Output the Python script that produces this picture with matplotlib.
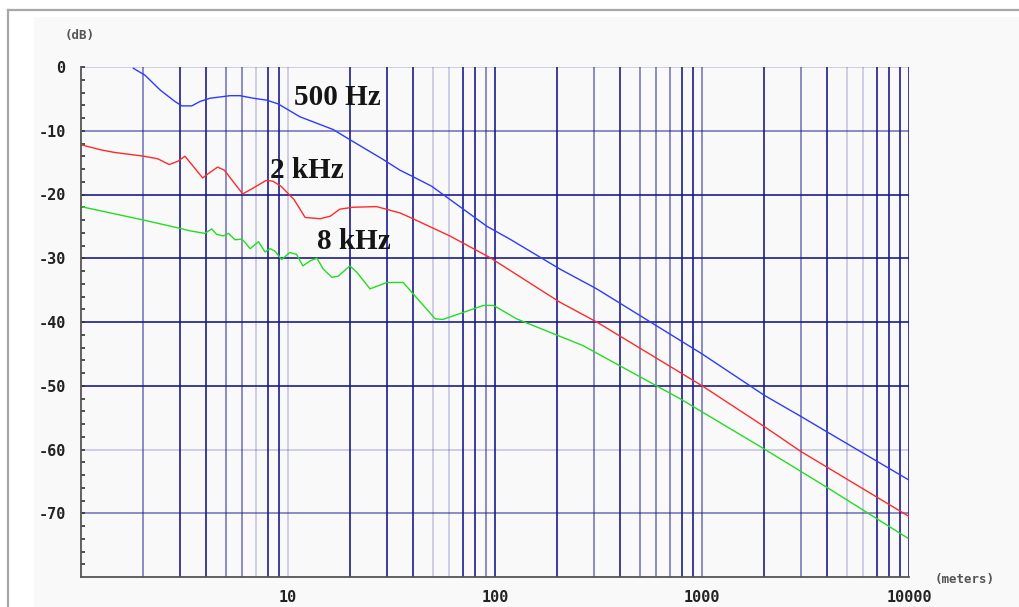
import matplotlib
matplotlib.use("Agg")
import matplotlib.pyplot as plt
import numpy as np
from matplotlib.lines import Line2D
from matplotlib.patches import Rectangle

# distance (meters) vs attenuation (dB)
f_500 = [1.79, 2.04, 2.41, 2.84, 3.07, 3.43, 3.76, 4.2, 5.25, 5.87, 6.8, 7.9, 8.98,
         11.4, 16.5, 19.9, 28.8, 34.8, 39.6, 49.4, 60.7, 91.5, 118, 206, 310,
         1000, 2000, 3000, 4000, 10000]
db_500 = [-0.2, -1.3, -3.6, -5.4, -6.1, -6.1, -5.4, -4.9, -4.5, -4.5, -4.9, -5.2, -5.8,
          -7.8, -9.8, -11.4, -14.5, -16.2, -17.1, -18.7, -20.8, -25.0, -27.0, -31.7, -34.8,
          -45.0, -51.5, -54.8, -57.2, -64.8]

f_2k = [1, 1.25, 1.45, 2.02, 2.35, 2.67, 2.93, 3.18, 3.53, 3.87, 4.17, 4.57, 4.93,
        5.5, 6.04, 6.62, 7.83, 8.44, 9.25, 10.7, 12.1, 14.3, 16, 17.8, 20.6, 26.8,
        34.8, 38.9, 60.5, 94.6, 206, 310, 1000, 2000, 3000, 10000]
db_2k = [-12.2, -13.0, -13.4, -14.0, -14.4, -15.3, -14.8, -14.0, -15.8, -17.4, -16.6, -15.7, -16.2,
         -18.2, -19.9, -19.2, -17.8, -17.9, -18.7, -20.8, -23.6, -23.8, -23.4, -22.3, -22.0, -21.9,
         -22.9, -23.6, -26.5, -29.9, -36.9, -40.0, -50.0, -56.4, -60.3, -70.5]

f_8k = [1, 2, 3, 3.36, 3.97, 4.28, 4.52, 4.87, 5.16, 5.54, 5.98, 6.2, 6.56, 7.2, 7.74,
        8.2, 8.66, 9.32, 10.2, 11.0, 11.8, 12.8, 13.8, 14.8, 16.3, 17.5, 19.9, 21.5,
        24.9, 30, 36, 51.4, 56, 88, 98.5, 127, 266, 780, 1970, 3950, 9860]
db_8k = [-21.9, -24.0, -25.3, -25.7, -26.1, -25.4, -26.25, -26.5, -26.1, -27.1, -27.0, -27.5, -28.5, -27.4, -29.0,
         -28.5, -28.9, -30.2, -29.1, -29.4, -31.2, -30.4, -30.0, -31.7, -33.0, -32.8, -31.2, -32.2,
         -34.8, -33.8, -33.8, -39.5, -39.6, -37.4, -37.4, -39.5, -43.7, -52.0, -59.8, -65.8, -73.9]

x_ticks = [10, 100, 1000, 10000]
x_ticklabels = ['10', '100', '1000', '10000']
y_ticks = [0, -10, -20, -30, -40, -50, -60, -70]
y_ticklabels = ['0', '-10', '-20', '-30', '-40', '-50', '-60', '-70']

# how dark each grid line looks in the picture (d/m/l), one per 2..10 step per decade
vgrid_shade = ['m', 'd', 'd', 'm', 'm', 'l', 'd', 'd', 'l',
               'd', 'd', 'd', 'l', 'l', 'd', 'd', 'm', 'd',
               'd', 'm', 'd', 'm', 'm', 'm', 'd', 'd', 'm',
               'd', 'm', 'd', 'l', 'l', 'd', 'd', 'd', 'd']
hgrid_shade = ['l', 'm', 'd', 'd', 'd', 'd', 'l', 'm']
shade_alpha = {'d': 0.95, 'm': 0.55, 'l': 0.22}
grid_color = '#1a1a8c'

W, H = 1019, 607
fig = plt.figure(figsize=(W / 100, H / 100), dpi=100)
fig.patch.set_facecolor('white')

# light panel and the grey frame round it (cut by the picture edges)
fig.add_artist(Rectangle((34 / W, 0), 1, 1 - 17 / H, transform=fig.transFigure,
                         facecolor='#f9f9f9', edgecolor='none', zorder=0))
fig.add_artist(Line2D([8 / W, 8 / W], [0, 1 - 10 / H], transform=fig.transFigure,
                      color='#a8a8a8', lw=1.6))
fig.add_artist(Line2D([8 / W, 1], [1 - 10 / H, 1 - 10 / H], transform=fig.transFigure,
                      color='#a8a8a8', lw=1.6))

ax = fig.add_axes([81 / W, 30 / H, 828 / W, 510 / H])
ax.set_facecolor('#f9f9f9')
ax.set_xscale('log')
ax.set_xlim(1, 10000)
ax.set_ylim(-80, 0)

# grid
vpos = [m * 10 ** d for d in range(4) for m in range(2, 11)]
for x, s in zip(vpos, vgrid_shade):
    ax.axvline(x, color=grid_color, alpha=shade_alpha[s], lw=1.25, zorder=1)
for y, s in zip(y_ticks, hgrid_shade):
    ax.axhline(y, color=grid_color, alpha=shade_alpha[s], lw=1.25, zorder=1)

ax.plot(f_500, db_500, color='#2b3bff', lw=1.0, zorder=3)
ax.plot(f_2k, db_2k, color='#ff2a2a', lw=1.0, zorder=3)
ax.plot(f_8k, db_8k, color='#22dd22', lw=1.0, zorder=3)

lab = dict(family='Liberation Serif', fontweight='bold', fontsize=21,
           color='#151515', ha='center', va='center', zorder=4)
ax.text(17.3, -4.85, '500 Hz', **lab)
ax.text(12.3, -16.25, '2 kHz', **lab)
ax.text(20.8, -27.4, '8 kHz', **lab)

for side in ['top', 'right']:
    ax.spines[side].set_visible(False)
for side in ['left', 'bottom']:
    ax.spines[side].set_color('#555555')
    ax.spines[side].set_linewidth(1.3)
    ax.spines[side].set_zorder(5)

tickfont = dict(family='DejaVu Sans Mono', fontweight='bold', fontsize=11, color='#222222')
ax.set_xticks(x_ticks)
ax.set_xticklabels(x_ticklabels, **tickfont)
ax.xaxis.set_minor_locator(matplotlib.ticker.NullLocator())
ax.tick_params(axis='x', length=0, pad=9)

ax.set_yticks(y_ticks)
ax.set_yticklabels(y_ticklabels, **tickfont)
ax.set_yticks(np.arange(-78, 0, 2), minor=True)
ax.tick_params(axis='y', which='both', direction='in', length=3, width=1.2,
               color='#333333', pad=11)

fig.text(80 / W, 1 - 35 / H, '(dB)', family='DejaVu Sans Mono', fontweight='bold',
         fontsize=9, color='#555555', ha='center', va='center')
fig.text(935 / W, 1 - 580 / H, '(meters)', family='DejaVu Sans Mono', fontweight='bold',
         fontsize=9, color='#555555', ha='left', va='center')

fig.savefig('out.png', dpi=100, facecolor='white')
